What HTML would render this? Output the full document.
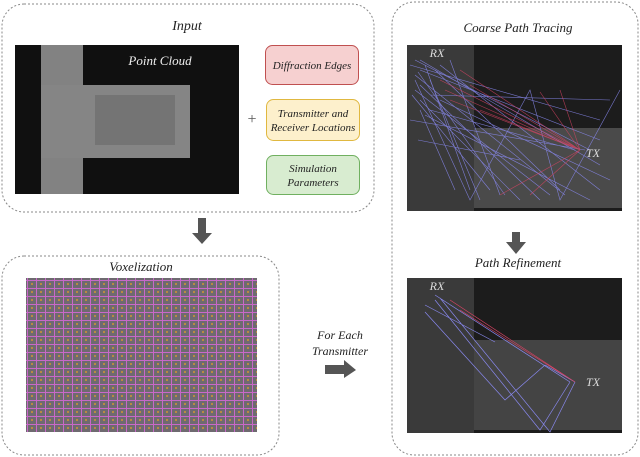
<!DOCTYPE html>
<html><head><style>
body{margin:0;background:#fff;}
svg{display:block;font-family:"Liberation Serif",serif;font-style:italic;}
</style></head><body>
<svg width="640" height="457" viewBox="0 0 640 457" xmlns="http://www.w3.org/2000/svg">
<defs>
<pattern id="vg" width="9" height="8" patternUnits="userSpaceOnUse">
<rect width="9" height="8" fill="#6e6a70"/>
<path d="M0 0.5H9M0.5 0V8" stroke="#c868c8" stroke-width="1"/>
<circle cx="5" cy="4" r="0.9" fill="#f0a020"/>
</pattern>
</defs>
<!-- Input box -->
<rect x="2" y="4" width="372" height="208" rx="22" fill="none" stroke="#888" stroke-dasharray="2,2"/>
<text x="187" y="30" font-size="14" text-anchor="middle" fill="#222">Input</text>
<rect x="15" y="45" width="224" height="149" fill="#101010"/>
<rect x="41" y="45" width="42" height="149" fill="#828282"/>
<rect x="41" y="85" width="149" height="73" fill="#858585"/>
<rect x="95" y="95" width="80" height="50" fill="#747474"/>
<text x="160" y="65" font-size="13" text-anchor="middle" fill="#eee">Point Cloud</text>
<text x="252" y="124" font-size="16" text-anchor="middle" fill="#555" font-style="normal">+</text>
<rect x="265.5" y="45.5" width="93" height="39" rx="7" fill="#f6d0d0" stroke="#c05050"/>
<text x="312" y="69" font-size="11" text-anchor="middle" fill="#222">Diffraction Edges</text>
<rect x="266.5" y="99.5" width="93" height="41" rx="7" fill="#fdf0cc" stroke="#e0b840"/>
<text x="313" y="117" font-size="11" text-anchor="middle" fill="#222">Transmitter and</text>
<text x="313" y="131" font-size="11" text-anchor="middle" fill="#222">Receiver Locations</text>
<rect x="266.5" y="155.5" width="93" height="39" rx="7" fill="#d8ecd0" stroke="#70b060"/>
<text x="313" y="172" font-size="11" text-anchor="middle" fill="#222">Simulation</text>
<text x="313" y="186" font-size="11" text-anchor="middle" fill="#222">Parameters</text>
<polygon points="198,218 206,218 206,233 212,233 202,244 192,233 198,233" fill="#555"/>
<!-- Voxelization -->
<rect x="2" y="256" width="277" height="199" rx="22" fill="none" stroke="#888" stroke-dasharray="2,2"/>
<text x="141" y="271" font-size="13" text-anchor="middle" fill="#222">Voxelization</text>
<rect x="26" y="278" width="231" height="154" fill="url(#vg)"/>
<text x="340" y="339" font-size="12" text-anchor="middle" fill="#222">For Each</text>
<text x="340" y="355" font-size="12" text-anchor="middle" fill="#222">Transmitter</text>
<polygon points="325,365 344,365 344,360 356,370 344,378 344,374 325,374" fill="#555"/>
<!-- Right box -->
<rect x="392" y="2" width="246" height="453" rx="22" fill="none" stroke="#888" stroke-dasharray="2,2"/>
<text x="518" y="32" font-size="13" text-anchor="middle" fill="#222">Coarse Path Tracing</text>
<rect x="407" y="45" width="215" height="166" fill="#1c1c1c"/>
<rect x="407" y="45" width="67" height="166" fill="#3a3a3a"/>
<rect x="474" y="128" width="148" height="80" fill="#4a4a4a"/>
<g stroke="#8888ee" stroke-width="0.6" opacity="0.85" fill="none">
<path d="M415 60L590 150M420 70L600 140M430 80L480 200M415 90L550 195M440 65L600 190M420 100L520 200M430 110L575 150M415 75L565 195M430 95L610 100M450 60L500 195M420 85L540 200M410 120L585 150"/>
<path d="M415 80L470 200L530 90L560 200L620 90M420 60L600 165M425 115L590 200M418 72L505 195M425 65L470 190M412 95L490 190M435 70L560 190M420 110L455 190M410 65L600 120M440 100L610 180M418 140L520 160"/>
</g>
<g stroke="#dd4466" stroke-width="0.6" opacity="0.75" fill="none">
<path d="M440 80L580 150M445 90L580 150M450 100L580 150M460 70L580 150M540 92L580 150M560 90L580 150M500 195L580 150M530 195L580 150M470 85L580 150M480 110L580 150"/>
</g>
<text x="437" y="57" font-size="12" text-anchor="middle" fill="#ddd">RX</text>
<text x="593" y="157" font-size="12" text-anchor="middle" fill="#ddd">TX</text>
<polygon points="512,232 520,232 520,242 526,242 516,254 506,242 512,242" fill="#555"/>
<text x="518" y="267" font-size="13" text-anchor="middle" fill="#222">Path Refinement</text>
<rect x="407" y="278" width="215" height="155" fill="#1c1c1c"/>
<rect x="407" y="278" width="67" height="155" fill="#3a3a3a"/>
<rect x="474" y="340" width="148" height="90" fill="#444"/>
<g stroke="#8888ee" stroke-width="0.7" fill="none">
<path d="M435 295L570 382M425 312L505 400L545 365L575 382M435 300L540 430L570 382M440 298L550 432L575 382M425 305L495 342"/>
</g>
<g stroke="#dd4466" stroke-width="0.6" fill="none"><path d="M450 300L575 382M460 310L575 382"/></g>
<text x="437" y="290" font-size="12" text-anchor="middle" fill="#ddd">RX</text>
<text x="593" y="386" font-size="12" text-anchor="middle" fill="#ddd">TX</text>
</svg>
</body></html>
